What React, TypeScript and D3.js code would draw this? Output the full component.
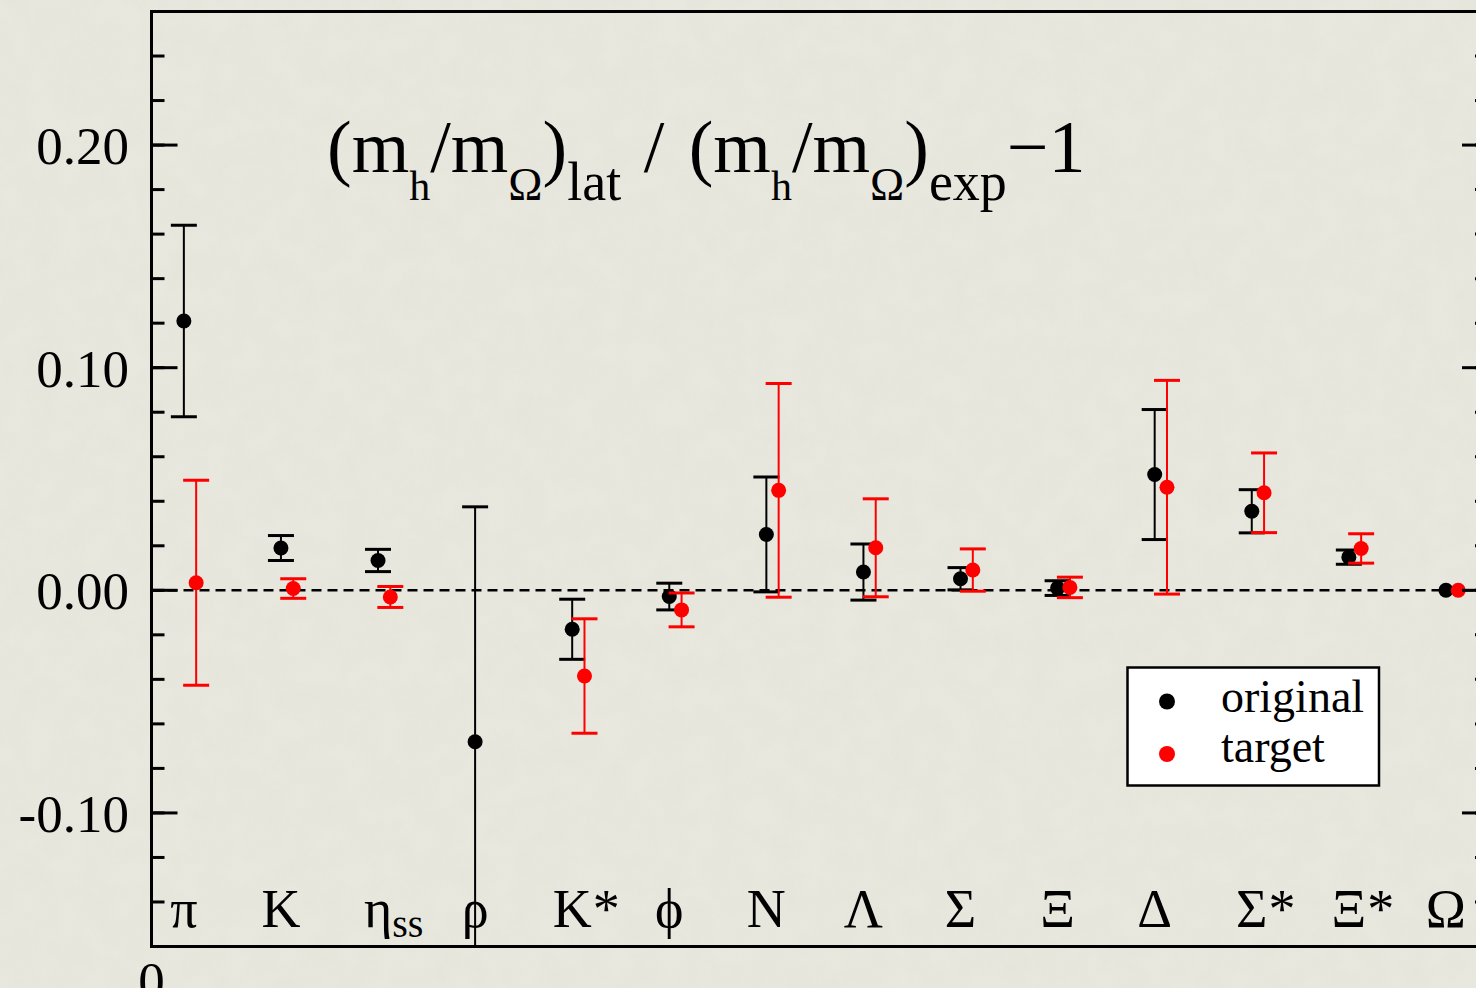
import React, { useEffect, useRef } from "react";
import * as d3 from "d3";

const W = 1476;
const H = 988;

// Hadron channels along the x axis (symbol + optional suffix)
const hadronSymbols = ["π", "K", "η", "ρ", "K", "ϕ", "N", "Λ", "Σ", "Ξ", "Δ", "Σ", "Ξ", "Ω"];
const hadronSuffixes = ["", "", "ss", "", "*", "", "", "", "", "", "", "*", "*", ""];
const hadronX = [1, 4, 7, 10, 13, 16, 19, 22, 25, 28, 31, 34, 37, 40];

// Relative deviation of the mass ratio, original tuning
const originalValues = [0.121, 0.019, 0.0134, -0.068, -0.0175, -0.0028, 0.0251, 0.0082, 0.0052, 0.001, 0.052, 0.0355, 0.0149, 0];
const originalErrors = [0.043, 0.0056, 0.005, 0.1055, 0.0135, 0.006, 0.0258, 0.0126, 0.005, 0.0033, 0.0292, 0.0097, 0.0032, 0];

// Same quantity at the target point (no ρ entry)
const targetValues: (number | null)[] = [0.0034, 0.0008, -0.003, null, -0.0385, -0.0088, 0.0449, 0.0191, 0.0091, 0.0013, 0.0463, 0.0438, 0.0188, 0];
const targetErrors: (number | null)[] = [0.046, 0.0044, 0.0047, null, 0.0257, 0.0076, 0.048, 0.022, 0.0095, 0.0046, 0.048, 0.0179, 0.0066, 0];

const yMajorTicks = [-0.1, 0, 0.1, 0.2];
const yTickLabels = ["-0.10", "0.00", "0.10", "0.20"];
const yMinorStep = 0.02;
const yDomain: [number, number] = [-0.16, 0.26];
const xDomain: [number, number] = [0, 41.3];
const targetShift = 0.38;

const legendItems = [
  { label: "original", color: "#000000" },
  { label: "target", color: "#ff0000" },
];

const SERIF = "'Liberation Serif', 'Times New Roman', Times, serif";

const plot = { left: 151.5, right: 1488, top: 11.5, bottom: 946.5 };

export default function App() {
  const labelRef = useRef<SVGGElement | null>(null);

  const x = d3.scaleLinear().domain(xDomain).range([plot.left, plot.right]);
  const y = d3.scaleLinear().domain(yDomain).range([plot.bottom, plot.top]);

  const minorTicks = d3.range(yDomain[0], yDomain[1] + 1e-9, yMinorStep).map((v) => Math.round(v * 100) / 100);

  const capHalf = 13;

  const original = hadronX.map((hx, i) => ({ x: x(hx), v: originalValues[i], e: originalErrors[i] }));
  const target = hadronX
    .map((hx, i) => ({ x: x(hx + targetShift), v: targetValues[i], e: targetErrors[i] }))
    .filter((d) => d.v !== null) as { x: number; v: number; e: number }[];

  // Hadron names: main glyph centred on its channel, suffix set after it
  useEffect(() => {
    const g = d3.select(labelRef.current);
    g.selectAll("*").remove();
    hadronSymbols.forEach((sym, i) => {
      const cx = x(hadronX[i]);
      const main = g
        .append("text")
        .attr("x", cx)
        .attr("y", 927)
        .attr("text-anchor", "middle")
        .attr("font-size", 54)
        .attr("font-family", SERIF)
        .attr("fill", "#000")
        .text(sym);
      const suf = hadronSuffixes[i];
      if (suf) {
        const w = (main.node() as SVGTextElement).getComputedTextLength();
        const isSub = suf !== "*";
        g.append("text")
          .attr("x", cx + w / 2 + (isSub ? 0 : 1))
          .attr("y", isSub ? 937 : 927)
          .attr("font-size", isSub ? 40 : 54)
          .attr("font-family", SERIF)
          .attr("fill", "#000")
          .text(suf);
      }
    });
  }, []);

  const renderSeries = (data: { x: number; v: number; e: number }[], color: string) => (
    <g>
      {data.map((d, i) => (
        <g key={i}>
          {d.e > 0 && (
            <g stroke={color}>
              <line x1={d.x} x2={d.x} y1={y(d.v + d.e)} y2={y(d.v - d.e)} strokeWidth={2} />
              <line x1={d.x - capHalf} x2={d.x + capHalf} y1={y(d.v + d.e)} y2={y(d.v + d.e)} strokeWidth={3} />
              <line x1={d.x - capHalf} x2={d.x + capHalf} y1={y(d.v - d.e)} y2={y(d.v - d.e)} strokeWidth={3} />
            </g>
          )}
          <circle cx={d.x} cy={y(d.v)} r={7.5} fill={color} />
        </g>
      ))}
    </g>
  );

  const titleBase = 172;
  const titleSub = 200;
  const subH = 42;
  const subOmega = 46;
  const subTag = 54;

  return (
    <svg
      width={W}
      height={H}
      style={{ position: "absolute", left: 0, top: 0, display: "block" }}
      fontFamily={SERIF}
    >
      <defs>
        <filter id="paper" x="0" y="0" width="100%" height="100%">
          <feTurbulence type="fractalNoise" baseFrequency="0.035" numOctaves={4} seed={7} />
          <feColorMatrix type="matrix" values="0 0 0 0 0.45  0 0 0 0 0.45  0 0 0 0 0.4  0 0 0 0.16 0" />
        </filter>
        <clipPath id="plotClip">
          <rect x={plot.left} y={plot.top} width={plot.right - plot.left} height={plot.bottom - plot.top} />
        </clipPath>
      </defs>

      <rect x={0} y={0} width={W} height={H} fill="#e9e9e0" />
      <rect x={0} y={0} width={W} height={H} filter="url(#paper)" opacity={0.5} />

      {/* zero reference line */}
      <line x1={plot.left} x2={plot.right} y1={y(0)} y2={y(0)} stroke="#000" strokeWidth={2.5} strokeDasharray="10 6" />

      {/* error bars and points */}
      <g clipPath="url(#plotClip)">
        {renderSeries(original, "#000000")}
        {renderSeries(target, "#ff0000")}
      </g>

      {/* y ticks on both sides */}
      <g stroke="#000" strokeWidth={3}>
        {minorTicks.map((v) => (
          <g key={v}>
            <line x1={plot.left} x2={plot.left + 13} y1={y(v)} y2={y(v)} />
            <line x1={plot.right} x2={plot.right - 13} y1={y(v)} y2={y(v)} />
          </g>
        ))}
        {yMajorTicks.map((v) => (
          <g key={v}>
            <line x1={plot.left} x2={plot.left + 26} y1={y(v)} y2={y(v)} />
            <line x1={plot.right} x2={plot.right - 26} y1={y(v)} y2={y(v)} />
          </g>
        ))}
      </g>
      <g fontSize={53} textAnchor="end" fill="#000">
        {yMajorTicks.map((v, i) => (
          <text key={v} x={129} y={y(v) + 19}>
            {yTickLabels[i]}
          </text>
        ))}
      </g>
      <text x={x(0)} y={999} fontSize={53} textAnchor="middle">
        0
      </text>

      {/* frame */}
      <rect
        x={plot.left}
        y={plot.top}
        width={plot.right - plot.left}
        height={plot.bottom - plot.top}
        fill="none"
        stroke="#000"
        strokeWidth={3}
      />

      <g ref={labelRef} />

      {/* title */}
      <text x={327} y={titleBase} fontSize={74} fill="#000" style={{ whiteSpace: "pre" }}>
        <tspan>(m</tspan>
        <tspan y={titleSub} fontSize={subH}>h</tspan>
        <tspan y={titleBase}>/m</tspan>
        <tspan y={titleSub} fontSize={subOmega}>Ω</tspan>
        <tspan y={titleBase}>)</tspan>
        <tspan y={titleSub} fontSize={subTag}>lat</tspan>
        <tspan y={titleBase} dx={4}> / </tspan>
        <tspan y={titleBase} dx={6}>(m</tspan>
        <tspan y={titleSub} fontSize={subH}>h</tspan>
        <tspan y={titleBase}>/m</tspan>
        <tspan y={titleSub} fontSize={subOmega}>Ω</tspan>
        <tspan y={titleBase}>)</tspan>
        <tspan y={titleSub} fontSize={subTag}>exp</tspan>
        <tspan y={titleBase}>−1</tspan>
      </text>

      {/* legend */}
      <g>
        <rect x={1127.5} y={667.5} width={251.5} height={118} fill="#ffffff" stroke="#000" strokeWidth={2.5} />
        {legendItems.map((item, i) => (
          <g key={item.label}>
            <circle cx={1167} cy={701.5 + i * 52.5} r={8} fill={item.color} />
            <text x={1221} y={712 + i * 50} fontSize={46} fill="#000">
              {item.label}
            </text>
          </g>
        ))}
      </g>
    </svg>
  );
}
